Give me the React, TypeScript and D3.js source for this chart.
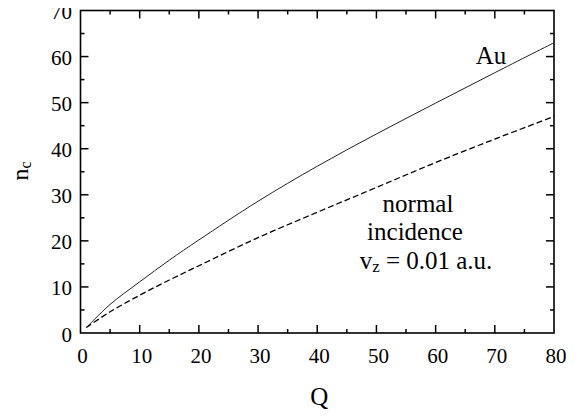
import React from "react";
import * as d3 from "d3";

// values
const qValues = [1, 5, 10, 15, 20, 30, 40, 50, 60, 70, 80];
const auValues = [1.2, 6.2, 11.1, 15.8, 20.2, 28.6, 36.2, 43.2, 49.9, 56.5, 63.0];
const normalValues = [1.2, 4.6, 8.2, 11.5, 14.6, 20.7, 26.2, 31.6, 37.0, 42.1, 47.0];
const xTicks = [0, 10, 20, 30, 40, 50, 60, 70, 80];
const yTicks = [0, 10, 20, 30, 40, 50, 60, 70];
const xMinor = [5, 15, 25, 35, 45, 55, 65, 75];
const yMinor = [5, 15, 25, 35, 45, 55, 65];

const W = 577;
const H = 416;
const margin = { top: 10.5, right: 23, bottom: 83, left: 80.5 };

const x = d3.scaleLinear().domain([0, 80]).range([margin.left, W - margin.right]);
const y = d3.scaleLinear().domain([0, 70]).range([H - margin.bottom, margin.top]);

const line = d3
  .line<number>()
  .x((_, i) => x(qValues[i]))
  .y((d) => y(d))
  .curve(d3.curveCatmullRom.alpha(0.5));

export default function App() {
  const major = 8, minor = 4;
  //inward ticks on all four sides
  const ticks: [number, number, number, number][] = [];
  xTicks.slice(1, -1).forEach((t) => {
    ticks.push([x(t), y(0), x(t), y(0) - major]);
    ticks.push([x(t), y(70), x(t), y(70) + major]);
  });
  xMinor.forEach((t) => {
    ticks.push([x(t), y(0), x(t), y(0) - minor]);
    ticks.push([x(t), y(70), x(t), y(70) + minor]);
  });
  yTicks.slice(1, -1).forEach((t) => {
    ticks.push([x(0), y(t), x(0) + major, y(t)]);
    ticks.push([x(80), y(t), x(80) - major, y(t)]);
  });
  yMinor.forEach((t) => {
    ticks.push([x(0), y(t), x(0) + minor, y(t)]);
    ticks.push([x(80), y(t), x(80) - minor, y(t)]);
  });

  return (
    <svg width={W} height={H}>
      {/* shift back by the body margin */}
      <g transform="translate(-8,-8)">
        <rect
          x={x(0)}
          y={y(70)}
          width={x(80) - x(0)}
          height={y(0) - y(70)}
          fill="none"
          stroke="#000"
          strokeWidth={1.6}
        />
        {ticks.map((d, i) => (
          <line key={i} x1={d[0]} y1={d[1]} x2={d[2]} y2={d[3]} stroke="#000" strokeWidth={1.5} />
        ))}

        {xTicks.map((t) => (
          <text key={"x" + t} x={x(t) + 2} y={363} textAnchor="middle" fontSize={21} fontFamily="Liberation Serif">
            {t}
          </text>
        ))}
        {yTicks.map((t) => (
          <text key={"y" + t} x={72} y={y(t) + 8.5} textAnchor="end" fontSize={21} fontFamily="Liberation Serif">
            {t}
          </text>
        ))}

        <path d={line(auValues) || ""} fill="none" stroke="#222" strokeWidth={1} />
        <path
          d={line(normalValues) || ""}
          fill="none"
          stroke="#000"
          strokeWidth={1.3}
          strokeDasharray="6,3"
        />

        <text x={(x(0) + x(80)) / 2 + 2} y={405} textAnchor="middle" fontSize={25} fontFamily="Liberation Serif">
          Q
        </text>
        <text transform="translate(28,171) rotate(-90)" textAnchor="middle" fontSize={24} fontFamily="Liberation Serif">
          n
          <tspan fontSize={16} dy={3}>c</tspan>
        </text>

        <text x={491} y={64} textAnchor="middle" fontSize={25} fontFamily="Liberation Serif">Au</text>
        <text x={418} y={212} textAnchor="middle" fontSize={25} fontFamily="Liberation Serif">normal</text>
        <text x={415} y={240} textAnchor="middle" fontSize={25} fontFamily="Liberation Serif">incidence</text>
        <text x={426} y={269} textAnchor="middle" fontSize={25} fontFamily="Liberation Serif">
          v
          <tspan fontSize={17} dy={3}>z</tspan>
          <tspan dy={-3}> = 0.01 a.u.</tspan>
        </text>
      </g>
    </svg>
  );
}
